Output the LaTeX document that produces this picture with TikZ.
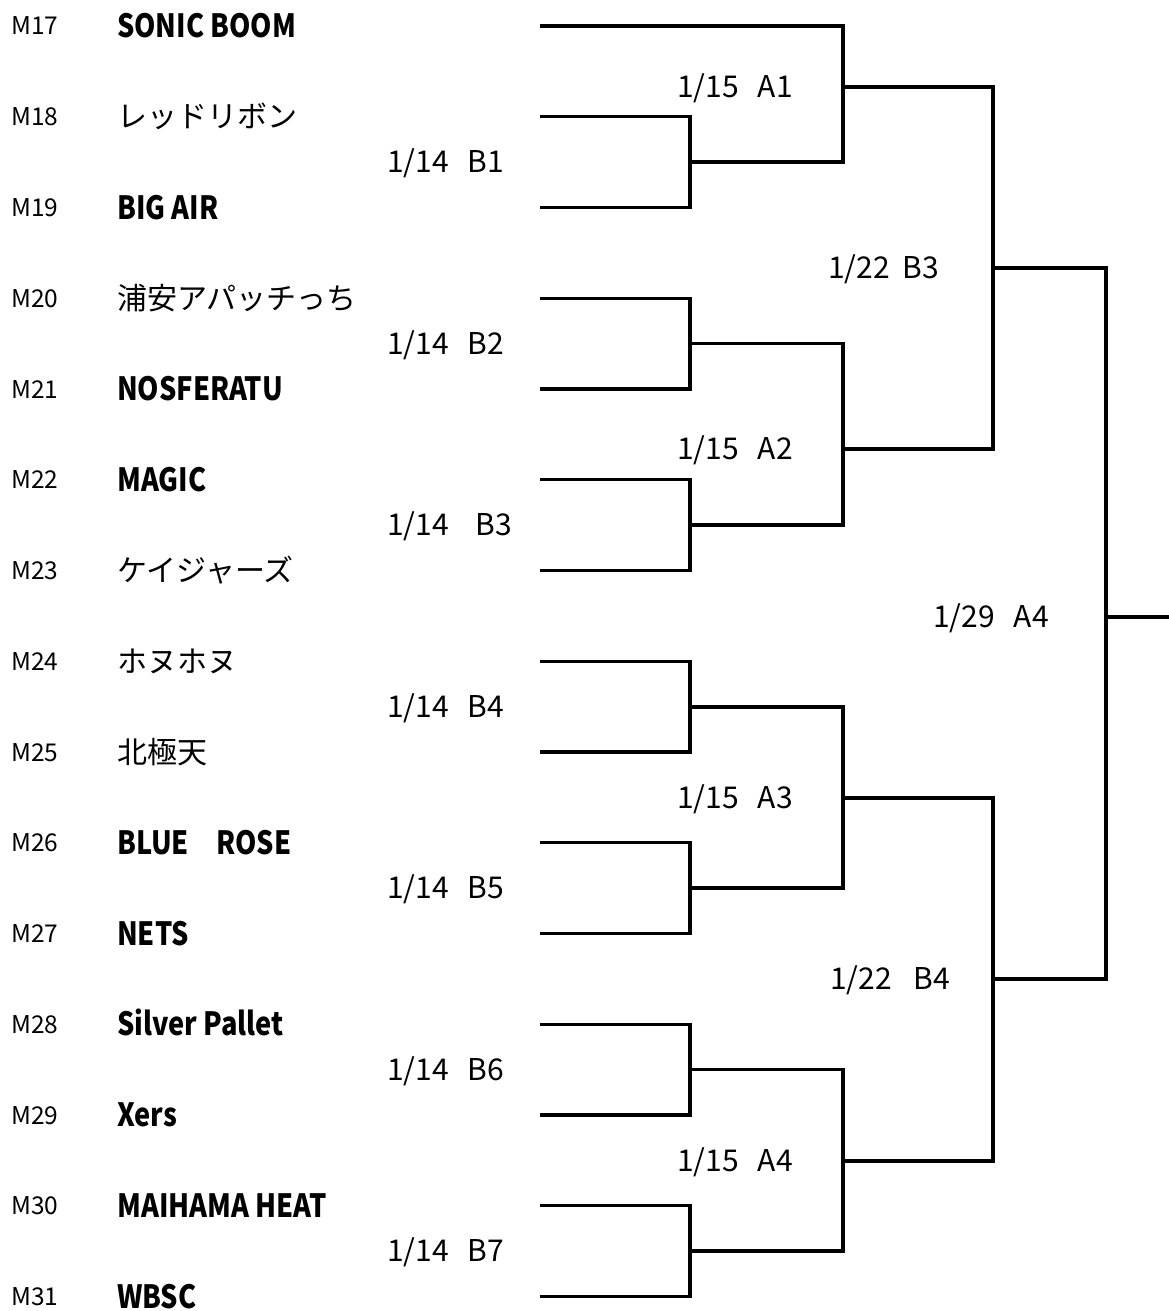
\documentclass[tikz,border=0pt]{standalone}
\usepackage{fontspec}
\setmainfont{Noto Sans CJK JP}
\newfontfamily\narrowfont{Noto Sans CJK JP}[FakeStretch=0.85]
\usetikzlibrary{positioning}

\begin{document}
\begin{tikzpicture}[x=1pt, y=-1pt,
        wire/.style={draw=black, line width=3.3pt},
        seed/.style={anchor=base west, inner sep=0pt, yshift=-9pt, font=\fontsize{24.5}{24.5}\selectfont},
        teamjp/.style={anchor=base west, inner sep=0pt, yshift=-11pt, font=\fontsize{30}{30}\selectfont},
        teamen/.style={anchor=base west, inner sep=0pt, yshift=-11.7pt, font=\narrowfont\bfseries\fontsize{32}{32}\selectfont},
        round/.style={anchor=base west, inner sep=0pt, yshift=-10.8pt, font=\fontsize{30}{30}\selectfont}
    ]
        \useasboundingbox (0,0) rectangle (1169,1311);

        % Teams
        \foreach \n/\name/\lang [count=\i from 0] in {17/SONIC BOOM/en, 18/レッドリボン/jp, 19/BIG AIR/en, 20/浦安アパッチっち/jp, 21/NOSFERATU/en, 22/MAGIC/en, 23/ケイジャーズ/jp, 24/ホヌホヌ/jp, 25/北極天/jp, 26/BLUE　ROSE/en, 27/NETS/en, 28/Silver Pallet/en, 29/Xers/en, 30/MAIHAMA HEAT/en, 31/WBSC/en}{
            \node[seed] (m\n) at (11, {26+90.75*\i}) {M\n};
            \node[team\lang] (n\n) at (117, {26+90.75*\i}) {\name};
            \coordinate (t\n) at (540, {26+90.75*\i});
        }

        % Junctions
        \foreach \k/\y in {1/162, 2/343.5, 3/525, 4/707, 5/888, 6/1069.5, 7/1251}
            \coordinate (b\k) at (690, \y);
        \coordinate (a1) at (843, 87);
        \coordinate (a2) at (843, 449);
        \coordinate (a3) at (843, 798);
        \coordinate (a4) at (843, 1161);
        \coordinate (s1) at (993, 268);
        \coordinate (s2) at (993, 979);
        \coordinate (fin) at (1106, 617);
        \coordinate (out) at (1169, 617);

        % Bracket lines
        \foreach \k/\p/\q in {1/18/19, 2/20/21, 3/22/23, 4/24/25, 5/26/27, 6/28/29, 7/30/31}
            \draw[wire] (t\p) -| (b\k) |- (t\q);
        \draw[wire] (t17) -| (a1) |- (b1);
        \draw[wire] (b2) -| (a2) |- (b3);
        \draw[wire] (b4) -| (a3) |- (b5);
        \draw[wire] (b6) -| (a4) |- (b7);
        \draw[wire] (a1) -| (s1) |- (a2);
        \draw[wire] (a3) -| (s2) |- (a4);
        \draw[wire] (s1) -| (fin) |- (s2);
        \draw[wire] (fin) -- (out);

        % Round labels
        \foreach \k/\y/\g in {1/162/19, 2/343.5/19, 3/525/27, 4/707/19, 5/888/19, 6/1069.5/19, 7/1251/19}
            \node[round] (lb\k) at (387, \y) {1/14\hspace{\g pt}B\k};
        \foreach \k/\y in {1/87, 2/449, 3/798, 4/1161}
            \node[round] (la\k) at (677, \y) {1/15\hspace{19pt}A\k};
        \node[round] (ls1) at (828, 268) {1/22\hspace{13pt}B3};
        \node[round] (ls2) at (830, 979) {1/22\hspace{22pt}B4};
        \node[round] (lfin) at (933, 617) {1/29\hspace{19pt}A4};

    \end{tikzpicture}
\end{document}
